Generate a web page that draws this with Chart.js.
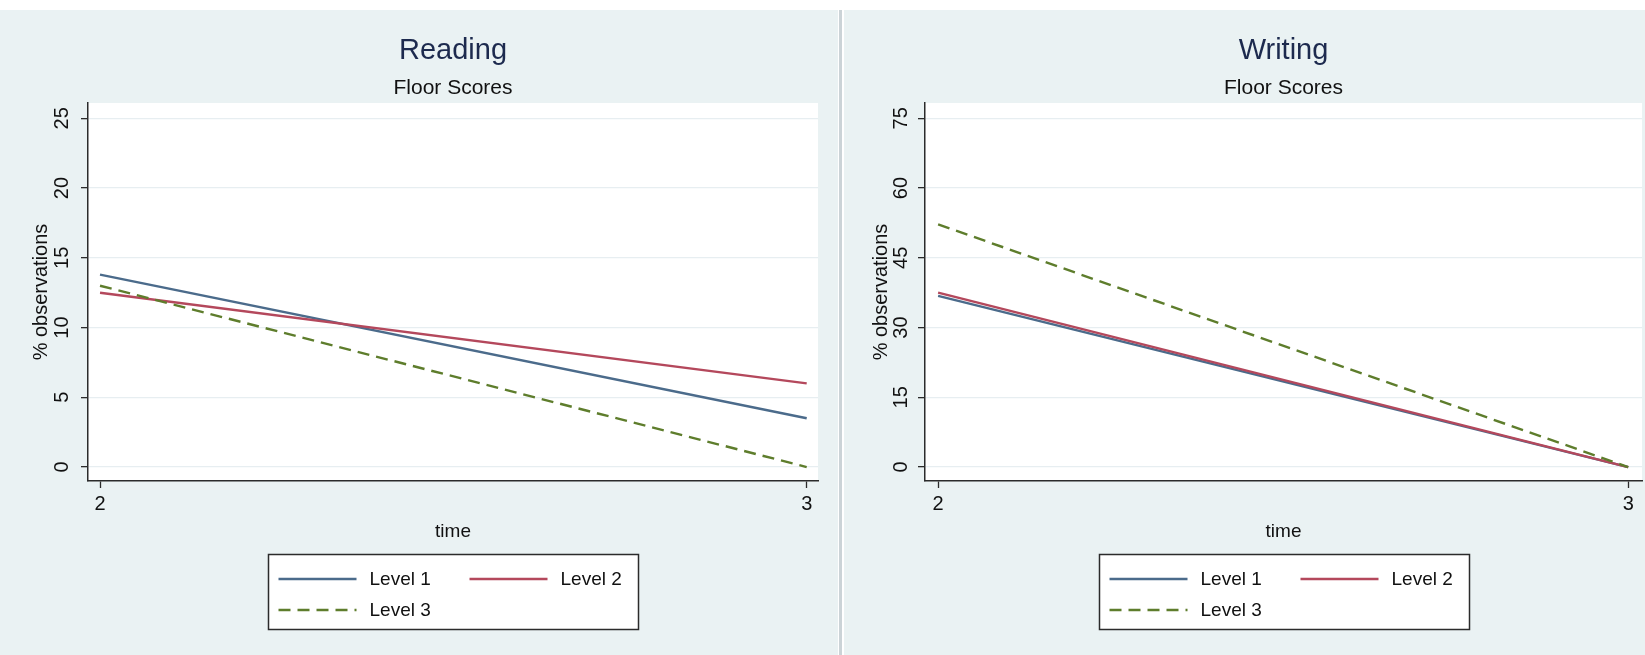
<!DOCTYPE html>
<html>
<head>
<meta charset="utf-8">
<script src="https://cdn.jsdelivr.net/npm/chart.js@4/dist/chart.umd.min.js"></script>
<style>
  html, body { margin: 0; padding: 0; background: #ffffff; }
  body { width: 1645px; height: 655px; position: relative; overflow: hidden; }
  .panel { position: absolute; top: 10px; height: 645px; background: #eaf2f3; }
  #leftPanel { left: 0; width: 838px; }
  #rightPanel { left: 844px; width: 801px; }
  .divider { position: absolute; left: 839px; top: 10px; width: 3px; height: 645px; background: #cbd3d7; }
  canvas { display: block; }
</style>
</head>
<body>
<div class="panel" id="leftPanel"><canvas id="readingChart" width="838" height="645"></canvas></div>
<div class="divider"></div>
<div class="panel" id="rightPanel"><canvas id="writingChart" width="801" height="645"></canvas></div>

<script>
// Survey waves on the x axis
const timePoints = [2, 3];
const timeTicks = [2, 3];

// Series names
const levelNames = ['Level 1', 'Level 2', 'Level 3'];

// Reading: % observations at the floor score
const readingLevel1 = [13.8, 3.5];
const readingLevel2 = [12.5, 6.0];
const readingLevel3 = [13.0, 0.0];
const readingTicks = [0, 5, 10, 15, 20, 25];

// Writing: % observations at the floor score
const writingLevel1 = [36.8, 0.0];
const writingLevel2 = [37.5, 0.0];
const writingLevel3 = [52.2, 0.0];
const writingTicks = [0, 15, 30, 45, 60, 75];

const FONT = "'Liberation Sans', Arial, Helvetica, sans-serif";
const lineColors = ['#4b6b8b', '#b4485c', '#5e7d2c'];
const lineDashes = [[], [], [12, 7]];

// White plot region
const plotBackground = {
  id: 'plotBackground',
  beforeDraw(chart) {
    const { ctx, chartArea: a } = chart;
    ctx.save();
    ctx.fillStyle = '#ffffff';
    ctx.fillRect(a.left, a.top, a.right - a.left, a.bottom - a.top);
    ctx.restore();
  }
};

// Boxed legend: two keys per row, left aligned, centred under the plot
const boxLegend = {
  id: 'boxLegend',
  afterDraw(chart, args, o) {
    const { ctx, chartArea: a } = chart;
    const left = Math.round((a.left + a.right) / 2 - o.width / 2) + 0.5;
    const top = o.top + 0.5;
    ctx.save();
    ctx.fillStyle = '#ffffff';
    ctx.fillRect(left, top, o.width, o.height);
    ctx.strokeStyle = '#2b2b2b';
    ctx.lineWidth = 1.5;
    ctx.strokeRect(left, top, o.width, o.height);
    chart.data.datasets.forEach((ds, i) => {
      const col = i % 2, row = Math.floor(i / 2);
      const x0 = left + o.itemX[col];
      const y = Math.round(top + o.rowY[row]);
      ctx.beginPath();
      ctx.setLineDash(ds.borderDash || []);
      ctx.strokeStyle = ds.borderColor;
      ctx.lineWidth = ds.borderWidth;
      ctx.moveTo(x0, y);
      ctx.lineTo(x0 + o.lineLen, y);
      ctx.stroke();
      ctx.setLineDash([]);
      ctx.fillStyle = '#111111';
      ctx.font = o.fontSize + 'px ' + FONT;
      ctx.textBaseline = 'middle';
      ctx.textAlign = 'left';
      ctx.fillText(ds.label, x0 + o.lineLen + o.gap, y + 1);
    });
    ctx.restore();
  }
};

function makePanel(canvasId, titleText, series, yTicks, yMin, yMax, xMin, xMax, g) {
  const datasets = series.map((vals, i) => ({
    label: levelNames[i],
    data: timePoints.map((t, j) => ({ x: t, y: vals[j] })),
    borderColor: lineColors[i],
    backgroundColor: lineColors[i],
    borderWidth: 2.4,
    borderDash: lineDashes[i],
    pointRadius: 0,
    tension: 0,
    fill: false,
    order: 3 - i
  }));

  return new Chart(document.getElementById(canvasId), {
    type: 'line',
    data: { datasets },
    options: {
      responsive: false,
      animation: false,
      events: [],
      layout: { padding: { left: 0, right: g.padRight, top: 0, bottom: g.padBottom } },
      plugins: {
        legend: { display: false },
        tooltip: { enabled: false },
        title: {
          display: true, text: titleText, fullSize: false,
          color: '#1d2a4e',
          font: { family: FONT, size: 29, weight: 'normal', lineHeight: 1.2 },
          padding: { top: 24, bottom: 0 }
        },
        subtitle: {
          display: true, text: 'Floor Scores', fullSize: false,
          color: '#111111',
          font: { family: FONT, size: 21, weight: 'normal', lineHeight: 1.2 },
          padding: { top: 6.6, bottom: 2.4 }
        },
        boxLegend: {
          top: 544, width: 370, height: 75,
          itemX: [10, 201], rowY: [24, 55],
          lineLen: 78, gap: 13, fontSize: 19
        }
      },
      scales: {
        x: {
          type: 'linear',
          min: xMin, max: xMax,
          afterBuildTicks: s => { s.ticks = timeTicks.map(v => ({ value: v })); },
          afterFit: s => { s.height = 70; },
          border: { display: true, color: '#2b2b2b', width: 1.5 },
          grid: { drawOnChartArea: false, drawTicks: true, tickLength: 7, tickColor: '#2b2b2b', tickWidth: 1.3 },
          ticks: { color: '#111111', font: { family: FONT, size: 20 }, padding: 4, maxRotation: 0, minRotation: 0 },
          title: {
            display: true, text: 'time', color: '#111111',
            font: { family: FONT, size: 19, lineHeight: 1.2 },
            padding: { top: 0, bottom: 8 }
          }
        },
        y: {
          type: 'linear',
          min: yMin, max: yMax,
          afterBuildTicks: s => { s.ticks = yTicks.map(v => ({ value: v })); },
          afterFit: s => { s.width = g.yWidth; },
          border: { display: true, color: '#2b2b2b', width: 1.5 },
          grid: { color: '#e7eef1', lineWidth: 1.3, drawTicks: true, tickLength: 7, tickColor: '#2b2b2b', tickWidth: 1.3 },
          ticks: {
            color: '#111111', font: { family: FONT, size: 20 },
            minRotation: 90, maxRotation: 90, crossAlign: 'center',
            padding: g.tickPad
          },
          title: {
            display: true, text: '% observations', color: '#111111',
            font: { family: FONT, size: 20, lineHeight: 1.2 },
            padding: { top: g.titlePad, bottom: 0 }
          }
        }
      }
    },
    plugins: [plotBackground, boxLegend]
  });
}

makePanel('readingChart', 'Reading',
  [readingLevel1, readingLevel2, readingLevel3],
  readingTicks, -1.0, 26.1, 1.983, 3.016,
  { padRight: 20, padBottom: 104, yWidth: 88, tickPad: 7, titlePad: 29 });

makePanel('writingChart', 'Writing',
  [writingLevel1, writingLevel2, writingLevel3],
  writingTicks, -3.0, 78.3, 1.981, 3.02,
  { padRight: 3, padBottom: 104, yWidth: 81, tickPad: 5, titlePad: 25 });
</script>
</body>
</html>
